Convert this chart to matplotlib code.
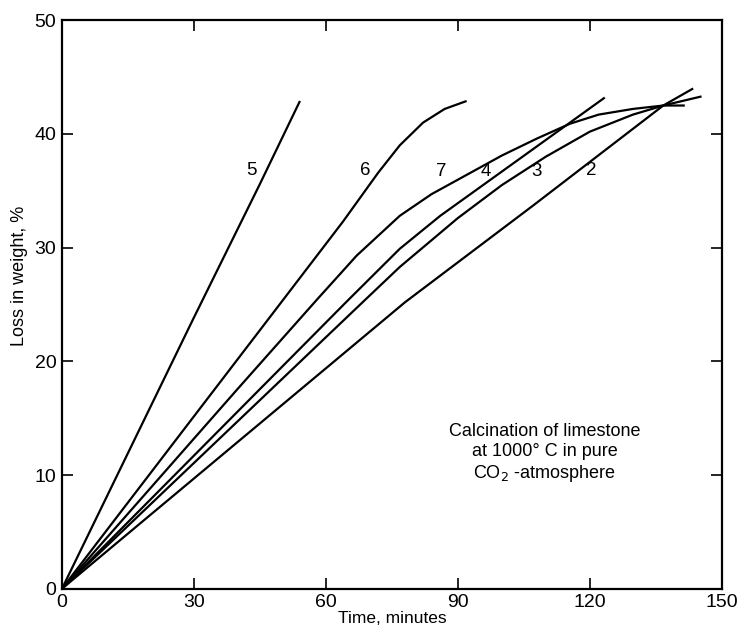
import matplotlib
matplotlib.use("Agg")
import matplotlib.pyplot as plt

plt.rcParams['font.family'] = ['Liberation Sans', 'DejaVu Sans']

# weight loss curves, time in minutes vs loss in %
t5 = [0, 29.8, 45.0, 54.1]
w5 = [0, 23.7, 35.6, 42.9]

t6 = [0, 46.7, 63.9, 71.9, 76.8, 82.1, 87.0, 92.0]
w6 = [0, 23.6, 32.3, 36.6, 39.0, 41.0, 42.2, 42.9]

t7 = [0, 40.0, 57.9, 67.0, 76.8, 84.0, 92.0, 100.0, 108.0, 115.5, 122.0, 129.8, 136.7, 141.6]
w7 = [0, 17.6, 25.4, 29.3, 32.8, 34.7, 36.4, 38.1, 39.6, 40.9, 41.7, 42.2, 42.5, 42.5]

t4 = [0, 65.1, 76.8, 86.0, 95.0, 115.5, 123.4]
w4 = [0, 25.4, 29.9, 32.8, 35.3, 41.0, 43.2]

t3 = [0, 68.9, 76.8, 90.0, 100.0, 110.0, 120.0, 129.8, 136.7, 145.4]
w3 = [0, 25.4, 28.3, 32.6, 35.5, 38.0, 40.2, 41.7, 42.5, 43.3]

t2 = [0, 78.0, 107.1, 136.7, 143.5]
w2 = [0, 25.2, 33.7, 42.5, 44.0]

curve_names = ['5', '6', '7', '4', '3', '2']
label_x = [43.1, 68.9, 86.3, 96.4, 107.9, 120.4]
label_y = [36.8, 36.8, 36.7, 36.7, 36.7, 36.8]

x_ticks = [0, 30, 60, 90, 120, 150]
y_ticks = [0, 10, 20, 30, 40, 50]

fig = plt.figure(figsize=(7.38, 6.33), dpi=100)
ax = fig.add_axes([0.084, 0.07, 0.894, 0.898])

for t, w in [(t5, w5), (t6, w6), (t7, w7), (t4, w4), (t3, w3), (t2, w2)]:
    ax.plot(t, w, color='black', lw=1.6, solid_capstyle='butt', solid_joinstyle='round')

for name, lx, ly in zip(curve_names, label_x, label_y):
    ax.text(lx, ly, name, fontsize=13.5, ha='center', va='center')

ax.text(109.8, 11.9, 'Calcination of limestone\nat 1000° C in pure\nCO$_2$ -atmosphere',
        fontsize=13, ha='center', va='center', linespacing=1.2)

ax.set_xlim(0, 150)
ax.set_ylim(0, 50)
ax.set_xticks(x_ticks)
ax.set_yticks(y_ticks)
ax.tick_params(direction='in', length=8, width=1.2, top=True, right=True,
               labelsize=14, pad=4)
for sp in ax.spines.values():
    sp.set_linewidth(1.6)

ax.set_xlabel('Time, minutes', fontsize=12.5, labelpad=0)
ax.set_ylabel('Loss in weight, %', fontsize=13)
ax.yaxis.set_label_coords(-0.052, 0.55)

fig.savefig('out.png', dpi=100)
